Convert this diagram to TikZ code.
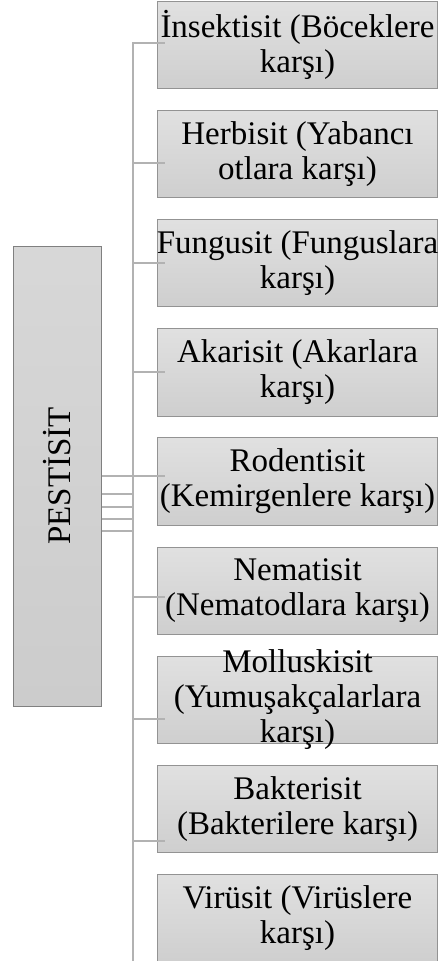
\documentclass[tikz,border=0pt]{standalone}
\usepackage{fontspec}
\setmainfont{Liberation Serif}
\begin{document}
\begin{tikzpicture}[x=1pt,y=-1pt,
  every node/.style={font=\fontsize{33}{35}\selectfont},
  catbox/.style={draw=gray!85, line width=1pt, top color=gray!24, bottom color=gray!38,
    minimum width=280pt, minimum height=87.5pt, inner sep=0pt, anchor=center},
  boxtext/.style={align=center, inner sep=0pt, text=black},
  rootbox/.style={draw=gray!100, line width=1pt, top color=gray!31, bottom color=gray!40,
    minimum width=88pt, minimum height=460pt, inner sep=0pt, anchor=center},
  link/.style={draw=gray!60, line width=2.4pt},
  stub/.style={draw=gray!60, line width=2pt}
]
\useasboundingbox (0,0) rectangle (438,961);

% root box with vertical title
\node[rootbox] (root) at (57,476) {};
\node[boxtext, rotate=90] (rootlabel) at (root.center) {PESTİSİT};

% child boxes, 109.2pt apart
\foreach \i/\txt in {
  1/{İnsektisit (Böceklere\\karşı)},
  2/{Herbisit (Yabancı\\otlara karşı)},
  3/{Fungusit (Funguslara\\karşı)},
  4/{Akarisit (Akarlara\\karşı)},
  5/{Rodentisit\\(Kemirgenlere karşı)},
  6/{Nematisit\\(Nematodlara karşı)},
  7/{Molluskisit\\(Yumuşakçalarlara\\karşı)},
  8/{Bakterisit\\(Bakterilere karşı)},
  9/{Virüsit (Virüslere\\karşı)}}
{
  \node[catbox, label={[boxtext]center:{\txt}}] (b\i) at (297.5, {1+109.2*(\i-1)+43.75}) {};
}

% spine of the hierarchy
\coordinate (spinetop) at (133,42);
\coordinate (spinebot) at (133,961);
\draw[link] (spinetop) -- (spinebot);

% junctions on the spine, one per child
\foreach \i/\yy in {1/43,2/163,3/263,4/372,5/476,6/597,7/719,8/841}
{
  \coordinate (j\i) at (133,\yy);
  \draw[stub] (j\i) -- ([xshift=8pt]b\i.west |- j\i);
}

% short ties from the root to the spine
\foreach \yy in {476,494,507,519,531}
{
  \draw[stub] (root.east |- 0,\yy) -- (spinetop |- 0,\yy);
}
\end{tikzpicture}
\end{document}
